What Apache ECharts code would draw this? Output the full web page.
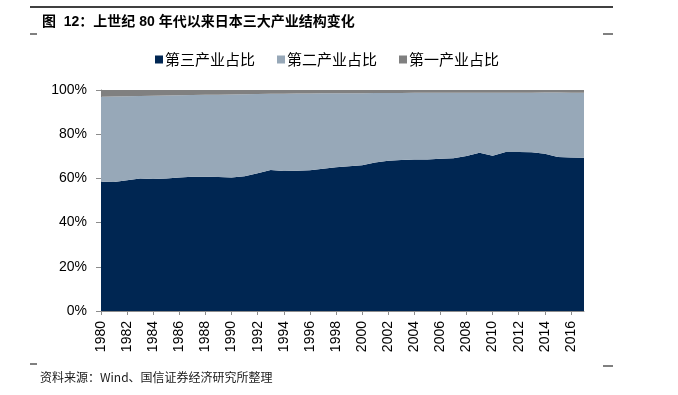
<!DOCTYPE html>
<html>
<head>
<meta charset="utf-8">
<script src="https://cdn.jsdelivr.net/npm/echarts@6/dist/echarts.min.js"></script>
<style>
html,body{margin:0;padding:0;background:#fff;}
#chart{width:678px;height:395px;}
</style>
</head>
<body>
<div id="chart"></div>
<script>
var years = ['1980','1981','1982','1983','1984','1985','1986','1987','1988','1989',
  '1990','1991','1992','1993','1994','1995','1996','1997','1998','1999',
  '2000','2001','2002','2003','2004','2005','2006','2007','2008','2009',
  '2010','2011','2012','2013','2014','2015','2016','2017'];
var tertiary = [58.5,58.4,59.2,60.0,59.7,59.9,60.4,60.8,60.7,60.6,
  60.4,61.0,62.3,63.8,63.3,63.5,63.7,64.4,65.0,65.5,
  65.9,67.2,68.0,68.3,68.5,68.6,68.9,69.1,70.1,71.6,
  70.3,71.9,72.0,71.8,71.2,69.7,69.5,69.3];
var secondary = [38.5,38.7,38.0,37.3,37.7,37.6,37.2,36.9,37.1,37.3,
  37.6,37.1,35.9,34.5,35.0,34.9,34.7,34.1,33.5,33.0,
  32.6,31.4,30.6,30.3,30.2,30.1,29.8,29.7,28.7,27.2,
  28.5,26.9,26.8,27.0,27.7,29.2,29.3,29.5];
var primary = [3.0,2.9,2.8,2.7,2.6,2.5,2.4,2.3,2.2,2.1,
  2.0,1.9,1.8,1.7,1.7,1.6,1.6,1.5,1.5,1.5,
  1.5,1.4,1.4,1.4,1.3,1.3,1.3,1.2,1.2,1.2,
  1.2,1.2,1.2,1.2,1.1,1.1,1.2,1.2];
var seriesNames = ['第三产业占比','第二产业占比','第一产业占比'];
var titleText = '图  12：上世纪 80 年代以来日本三大产业结构变化';
var sourceText = '资料来源：Wind、国信证券经济研究所整理';

var colors = ['#002652','#97A8B8','#808080'];
var chart = echarts.init(document.getElementById('chart'), null, {renderer:'canvas'});
function areaSeries(name, data, color){
  return {
    name: name, type: 'line', stack: 'total', data: data,
    showSymbol: false, symbol: 'none',
    lineStyle: {width: 0},
    areaStyle: {color: color, opacity: 1},
    itemStyle: {color: color},
    emphasis: {disabled: true}
  };
}
chart.setOption({
  animation: false,
  backgroundColor: '#fff',
  title: {
    text: titleText, left: 37, top: 10,
    textStyle: {fontSize: 14, fontWeight: 'bold', color: '#000',
      fontFamily: '"Liberation Sans", "Noto Sans CJK SC", sans-serif'}
  },
  legend: {
    data: seriesNames, left: 150, top: 47,
    itemWidth: 8, itemHeight: 8, itemGap: 22, icon: 'rect',
    textStyle: {fontSize: 15, color: '#000', padding: [0,0,0,-3],
      fontFamily: '"Noto Sans CJK SC", sans-serif'}
  },
  grid: {left: 101, right: 94, top: 90, bottom: 84, containLabel: false},
  xAxis: {
    type: 'category', data: years, boundaryGap: false,
    axisLine: {lineStyle: {color: '#8c8c8c', width: 1}},
    axisTick: {show: true, interval: 1, length: 4, lineStyle: {color: '#8c8c8c'}},
    axisLabel: {interval: 1, rotate: 90, margin: 10, fontSize: 14, color: '#000',
      fontFamily: '"Liberation Sans", Arial, sans-serif'},
    splitLine: {show: false}
  },
  yAxis: {
    type: 'value', min: 0, max: 100, interval: 20,
    axisLine: {show: true, lineStyle: {color: '#8c8c8c', width: 1}},
    axisTick: {show: true, length: 5, lineStyle: {color: '#8c8c8c'}},
    axisLabel: {formatter: '{value}%', margin: 14, fontSize: 14, color: '#000',
      fontFamily: '"Liberation Sans", Arial, sans-serif'},
    splitLine: {show: false}
  },
  series: [
    areaSeries(seriesNames[0], tertiary, colors[0]),
    areaSeries(seriesNames[1], secondary, colors[1]),
    areaSeries(seriesNames[2], primary, colors[2])
  ],
  graphic: [
    {type: 'line', shape: {x1: 30, y1: 7, x2: 613, y2: 7}, style: {stroke: '#000', lineWidth: 1.5}},
    {type: 'line', shape: {x1: 30, y1: 34, x2: 37, y2: 34}, style: {stroke: '#000', lineWidth: 1}},
    {type: 'line', shape: {x1: 603, y1: 34, x2: 613, y2: 34}, style: {stroke: '#000', lineWidth: 1}},
    {type: 'line', shape: {x1: 30, y1: 364, x2: 37, y2: 364}, style: {stroke: '#000', lineWidth: 1}},
    {type: 'line', shape: {x1: 603, y1: 366, x2: 613, y2: 366}, style: {stroke: '#000', lineWidth: 1}},
    {type: 'text', left: 40, top: 371,
      style: {text: sourceText, fontSize: 12, fill: '#1a1a1a',
        fontFamily: '"Noto Sans CJK SC", sans-serif'}}
  ]
});
</script>
</body>
</html>
